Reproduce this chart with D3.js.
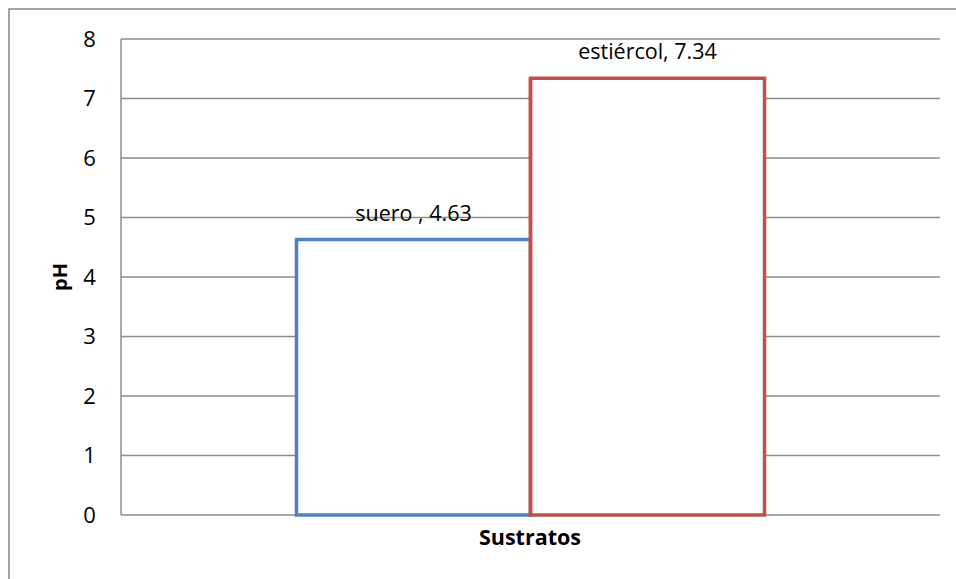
<!DOCTYPE html>
<html>
<head>
<meta charset="utf-8">
<script src="https://cdn.jsdelivr.net/npm/d3@7"></script>
<style>
  html, body { margin: 0; padding: 0; background: #fff; }
  svg { display: block; font-family: "Open Sans", "Liberation Sans", sans-serif; }
</style>
</head>
<body>
<svg id="chart" width="956" height="579"></svg>
<script>
// pH of each substrate
const categories = ["Sustratos"];
const seriesNames = ["suero ", "estiércol"];
const seriesValues = [4.63, 7.34];
const seriesColors = ["#4F81BD", "#C0504D"];
const yTicks = [0, 1, 2, 3, 4, 5, 6, 7, 8];

const svg = d3.select("#chart");
const W = 956, H = 579;
const plot = { left: 121, right: 940, top: 39, bottom: 515 };

// outer chart frame
svg.append("rect")
  .attr("x", 9).attr("y", 9)
  .attr("width", W + 10).attr("height", H + 10)
  .attr("fill", "#fff").attr("stroke", "#868686").attr("stroke-width", 1.5);

const y = d3.scaleLinear().domain([0, 8]).range([plot.bottom, plot.top]);
const x = d3.scaleBand().domain(categories).range([plot.left, plot.right]).paddingInner(0).paddingOuter(0);
// two bars share the band, with a 150% gap width around the group
const groupW = x.bandwidth() * 2 / (2 + 1.5);
const xs = d3.scaleBand().domain(seriesNames)
  .range([x(categories[0]) + (x.bandwidth() - groupW) / 2, x(categories[0]) + (x.bandwidth() + groupW) / 2]);

// gridlines
svg.append("g").selectAll("line").data(yTicks).join("line")
  .attr("x1", plot.left).attr("x2", plot.right)
  .attr("y1", d => y(d)).attr("y2", d => y(d))
  .attr("stroke", "#8c8c8c").attr("stroke-width", 1.5);

// left axis line
svg.append("line")
  .attr("x1", plot.left).attr("x2", plot.left)
  .attr("y1", plot.top).attr("y2", plot.bottom)
  .attr("stroke", "#8c8c8c").attr("stroke-width", 1.5);

// y tick labels
svg.append("g").selectAll("text").data(yTicks).join("text")
  .attr("x", 89.5).attr("y", d => y(d))
  .attr("dy", "0.36em")
  .attr("text-anchor", "middle")
  .attr("font-size", 22).attr("fill", "#000")
  .text(d => d);

// bars
const bars = seriesNames.map((n, i) => ({ name: n, value: seriesValues[i], color: seriesColors[i] }));
svg.append("g").selectAll("rect").data(bars).join("rect")
  .attr("x", d => xs(d.name))
  .attr("y", d => y(d.value))
  .attr("width", xs.bandwidth())
  .attr("height", d => y(0) - y(d.value))
  .attr("fill", "#fff")
  .attr("stroke", d => d.color)
  .attr("stroke-width", 3.5);

// redraw the red bar's left edge on top of the blue one
svg.append("line")
  .attr("x1", xs(seriesNames[1])).attr("x2", xs(seriesNames[1]))
  .attr("y1", y(seriesValues[1])).attr("y2", y(0))
  .attr("stroke", seriesColors[1]).attr("stroke-width", 3.5);

// data labels
svg.append("g").selectAll("text").data(bars).join("text")
  .attr("x", d => xs(d.name) + xs.bandwidth() / 2)
  .attr("y", d => y(d.value) - 19)
  .attr("text-anchor", "middle")
  .attr("font-size", 21.5).attr("fill", "#000")
  .text(d => `${d.name}, ${d.value.toFixed(2)}`);

// axis titles
svg.append("text")
  .attr("x", 530).attr("y", 545)
  .attr("text-anchor", "middle")
  .attr("font-size", 21.5).attr("font-weight", "bold")
  .text("Sustratos");

svg.append("text")
  .attr("transform", "translate(67,277) rotate(-90)")
  .attr("text-anchor", "middle")
  .attr("font-size", 20).attr("font-weight", "bold")
  .text("pH");
</script>
</body>
</html>
